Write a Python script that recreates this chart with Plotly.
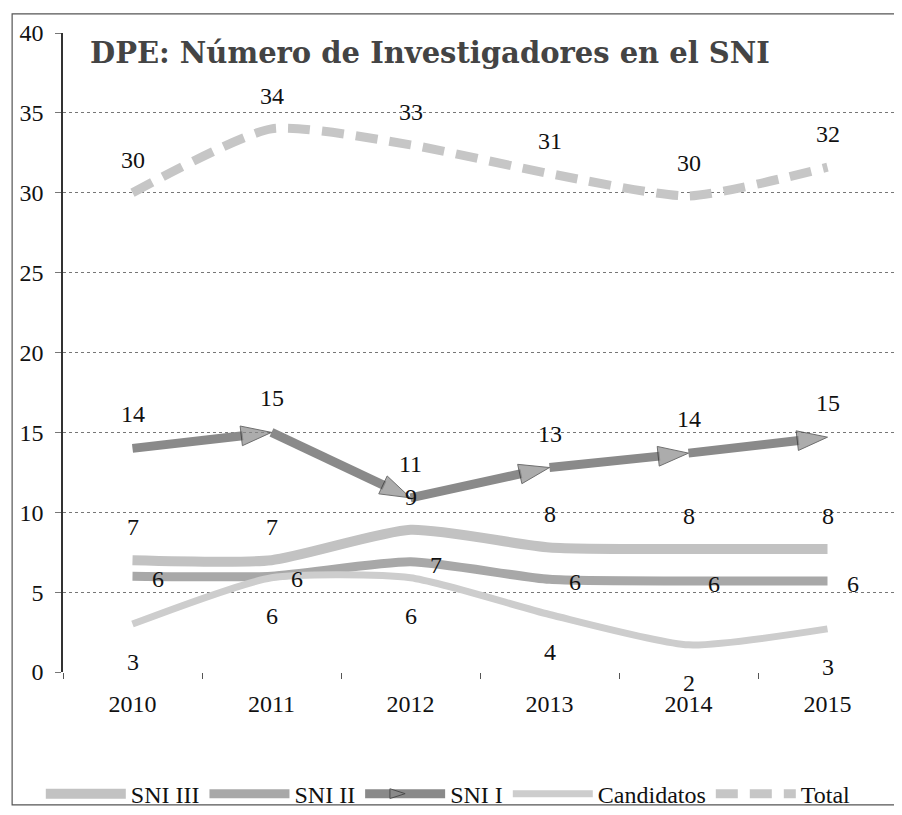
import plotly.graph_objects as go

years = ["2010", "2011", "2012", "2013", "2014", "2015"]
sni_iii = [7, 7, 8.9, 7.8, 7.7, 7.7]
sni_ii = [6, 6, 6.9, 5.8, 5.7, 5.7]
sni_i = [14, 15, 10.9, 12.8, 13.7, 14.7]
candidatos = [3, 5.9, 5.9, 3.6, 1.7, 2.7]
total = [30, 34, 33, 31.2, 29.8, 31.6]
y_ticks = [0, 5, 10, 15, 20, 25, 30, 35, 40]
title_text = "DPE: Número de Investigadores en el SNI"

SERIF = "Liberation Serif"
FS = 24

fig = go.Figure()

fig.add_trace(go.Scatter(
    x=years, y=sni_iii, name="SNI III", mode="lines",
    line=dict(color="#c2c2c2", width=10, shape="spline", smoothing=0.6),
))
fig.add_trace(go.Scatter(
    x=years, y=sni_ii, name="SNI II", mode="lines",
    line=dict(color="#a8a8a8", width=9, shape="spline", smoothing=0.6),
))
fig.add_trace(go.Scatter(
    x=years, y=sni_i, name="SNI I", mode="lines+markers",
    line=dict(color="#8a8a8a", width=9),
    marker=dict(symbol="arrow", angleref="previous",
                size=[0] + [32] * (len(years) - 1),
                color="#8a8a8a", line=dict(color="#333333", width=1)),
))
fig.add_trace(go.Scatter(
    x=years, y=candidatos, name="Candidatos", mode="lines",
    line=dict(color="#cdcdcd", width=7, shape="spline", smoothing=0.6),
))
fig.add_trace(go.Scatter(
    x=years, y=total, name="Total", mode="lines",
    line=dict(color="#c6c6c6", width=9, dash="22px,12px", shape="spline", smoothing=0.6),
))

label_specs = [
    (total, 0, 33),
    (sni_i, 0, 34),
    (sni_iii, 0, 33),
    (sni_ii, 25, -3),
    (candidatos, 0, -38),
]
for vals, xs, ys in label_specs:
    for i, yv in enumerate(vals):
        fig.add_annotation(x=i, y=yv, text=f"{yv:.0f}", showarrow=False,
                           xshift=xs, yshift=ys,
                           font=dict(family=SERIF, size=FS, color="#111111"))

fig.add_annotation(x=0.03, y=0.968, xref="paper", yref="paper",
                   text=f"<b>{title_text}</b>", showarrow=False,
                   xanchor="left", yanchor="middle",
                   font=dict(family="DejaVu Serif", size=29, color="#444444"))

# outer frame
fig.add_shape(type="rect", xref="paper", yref="paper",
              x0=-0.061, x1=1.0, y0=-0.208, y1=1.03,
              line=dict(color="#555555", width=1.2))

fig.update_layout(
    width=894, height=807,
    margin=dict(l=55, r=5, t=25, b=143, autoexpand=False),
    paper_bgcolor="white", plot_bgcolor="white",
    font=dict(family=SERIF, size=FS, color="#111111"),
    showlegend=True,
    legend=dict(orientation="h", x=0.462, xanchor="center", y=-0.191, yanchor="middle",
                font=dict(family=SERIF, size=FS, color="#111111"),
                itemwidth=80, tracegroupgap=0, bgcolor="rgba(0,0,0,0)"),
    xaxis=dict(type="category", range=[-0.5, len(years) - 0.5], showgrid=False, showline=False,
               ticks="outside", ticklen=6, tickcolor="#555555", tickson="boundaries",
               tickfont=dict(family=SERIF, size=FS), ticklabelstandoff=15,
               zeroline=False, automargin=False),
    yaxis=dict(range=[0, 40], tickvals=y_ticks, showgrid=True,
               gridcolor="#777777", griddash="dot", gridwidth=1,
               showline=True, linecolor="#333333", linewidth=1.5,
               ticks="outside", ticklen=6, tickcolor="#777777",
               tickfont=dict(family=SERIF, size=FS), ticklabelstandoff=7,
               zeroline=False, automargin=False),
)

fig.write_html("out.html")
